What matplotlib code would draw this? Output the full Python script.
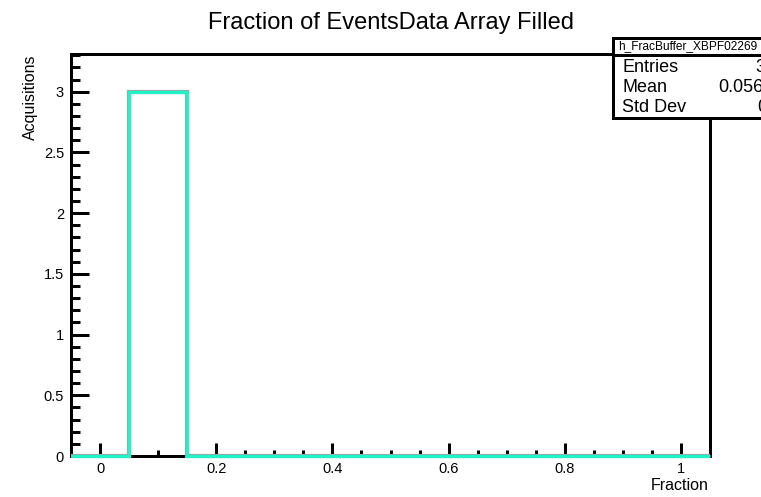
import numpy as np
import matplotlib
matplotlib.use("Agg")
import matplotlib.pyplot as plt
from matplotlib.patches import Rectangle
from matplotlib.lines import Line2D
from matplotlib.ticker import MultipleLocator

plt.rcParams['font.family'] = ['Liberation Sans', 'DejaVu Sans']

# Data
bin_edges = [-0.05, 0.05, 0.15, 0.25, 0.35, 0.45, 0.55, 0.65, 0.75, 0.85, 0.95, 1.05]
counts = [0, 3, 0, 0, 0, 0, 0, 0, 0, 0, 0]
title = "Fraction of EventsData Array Filled"
hist_name = "h_FracBuffer_XBPF02269"
stat_names = ["Entries", "Mean", "Std Dev"]
stat_values = ["3", "0.05667", "0"]

W, H = 761, 497
fig = plt.figure(figsize=(W / 100, H / 100), dpi=100)
px = 72 / 100  # points per pixel

ax = fig.add_axes([71 / W, (H - 456) / H, (710 - 71) / W, (456 - 54) / H])
ax.set_xlim(-0.05, 1.05)
ax.set_ylim(0, 3.31)

# histogram
ax.stairs(counts, bin_edges, baseline=None, color='#9aa8a4', lw=4.2 * px, zorder=3, clip_on=False)
ax.stairs(counts, bin_edges, baseline=None, color='#22f2c8', lw=3.2 * px, zorder=3.1, clip_on=False)

for s in ax.spines.values():
    s.set_linewidth(3 * px)
    s.set_color('black')

ax.xaxis.set_major_locator(MultipleLocator(0.2))
ax.xaxis.set_minor_locator(MultipleLocator(0.05))
ax.yaxis.set_major_locator(MultipleLocator(0.5))
ax.yaxis.set_minor_locator(MultipleLocator(0.1))
ax.tick_params(axis='x', which='major', direction='in', length=13 * px, width=3 * px,
               labelsize=10.5, pad=4, top=False)
ax.tick_params(axis='x', which='minor', direction='in', length=6 * px, width=3 * px, top=False)
ax.tick_params(axis='y', which='major', direction='in', length=18 * px, width=3 * px,
               labelsize=10.5, pad=5, right=False)
ax.tick_params(axis='y', which='minor', direction='in', length=9 * px, width=3 * px, right=False)
ax.xaxis.set_major_formatter(matplotlib.ticker.FuncFormatter(lambda v, p: f"{v:g}"))
ax.yaxis.set_major_formatter(matplotlib.ticker.FuncFormatter(lambda v, p: f"{v:g}"))

fig.text(391 / W, 1 - 23 / H, title, ha='center', va='center', fontsize=17)
fig.text(709 / W, 1 - 486 / H, "Fraction", ha='right', va='center', fontsize=11.5)
fig.text(30 / W, 1 - 55 / H, "Acquisitions", ha='center', va='top', rotation=90, fontsize=11.5)

# stats box
x0 = 613 / W
box = Rectangle((x0, 1 - 118 / H), 1.2 - x0, (118 - 38) / H, transform=fig.transFigure,
                facecolor='white', edgecolor='black', lw=3 * px, zorder=10)
fig.add_artist(box)
fig.add_artist(Line2D([x0, 1.2], [1 - 55 / H, 1 - 55 / H], transform=fig.transFigure,
                      color='black', lw=3 * px, zorder=11))
fig.text(618 / W, 1 - 46.5 / H, hist_name, ha='left', va='center', fontsize=8.6, zorder=12)
ys = [68, 88, 107]
val_x = [755, 718, 757]
for name, val, y, vx in zip(stat_names, stat_values, ys, val_x):
    fig.text(622 / W, 1 - y / H, name, ha='left', va='center', fontsize=13, zorder=12)
    fig.text(vx / W, 1 - y / H, val, ha='left', va='center', fontsize=13, zorder=12)

fig.savefig("out.png", dpi=100)
